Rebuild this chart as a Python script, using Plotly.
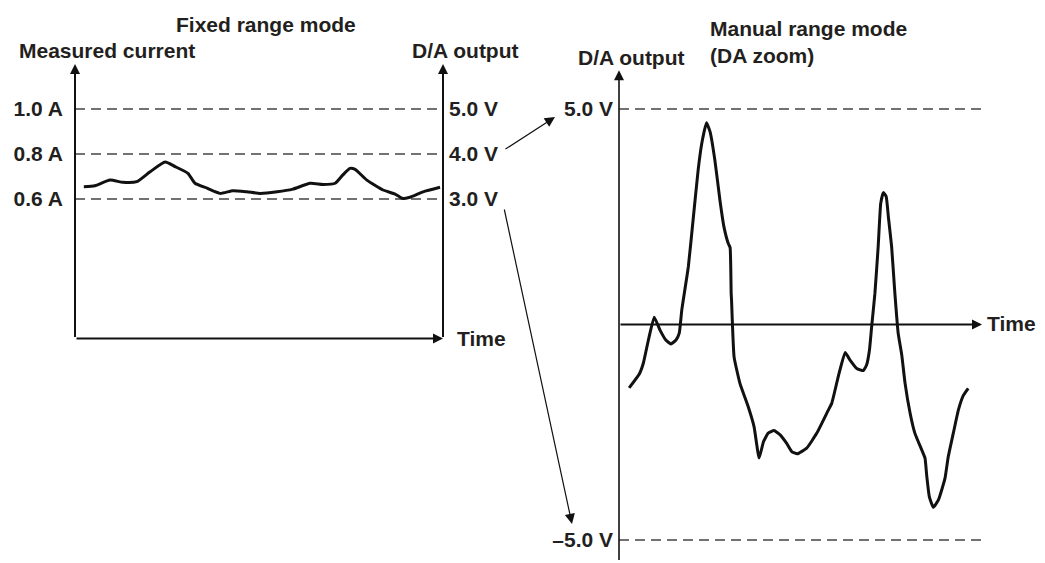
import plotly.graph_objects as go

# ---- data -------------------------------------------------------------
# Fixed range mode: measured current (A) over time (0-100 units)
fixed_time = [2.4, 5.4, 9.5, 13.0, 16.8, 20.4, 24.5, 27.2, 30.7, 32.6, 35.9, 39.4,
              42.9, 46.7, 50.3, 54.9, 59.2, 63.9, 67.4, 70.7, 72.8, 74.7, 76.1,
              79.3, 83.7, 87.0, 88.9, 91.0, 94.6, 99.2]
fixed_current = [0.655, 0.659, 0.684, 0.674, 0.677, 0.721, 0.764, 0.744, 0.714,
                 0.670, 0.648, 0.625, 0.637, 0.632, 0.625, 0.632, 0.644, 0.670,
                 0.665, 0.670, 0.707, 0.736, 0.732, 0.684, 0.640, 0.622, 0.603,
                 0.608, 0.632, 0.652]

# Manual range mode (DA zoom): D/A output (V) over time (0-100 units)
zoom_time = [2.8, 5.6, 6.7, 8.1, 9.7, 11.3, 12.9, 14.3, 15.7, 16.6, 17.3, 19.1,
             20.5, 21.8, 22.8, 24.1, 25.1, 26.4, 27.8, 28.9, 30.1, 30.6, 30.9,
             31.0, 31.7, 33.3, 35.6, 37.2, 38.6, 39.8, 41.1, 42.7, 44.4, 46.2,
             47.6, 49.1, 51.7, 54.5, 57.7, 58.6, 60.4, 62.3, 63.6, 65.5, 67.3,
             68.2, 69.0, 69.6, 70.5, 71.4, 72.1, 72.8, 73.6, 74.2, 75.1, 76.0,
             76.9, 77.9, 78.8, 80.2, 81.5, 83.4, 84.3, 84.8, 85.5, 86.6, 88.0,
             89.8, 90.7, 92.1, 93.5, 94.9, 96.2]
zoom_volts = [-1.47, -1.15, -0.90, -0.36, 0.17, -0.13, -0.36, -0.45, -0.36, -0.20,
              0.34, 1.34, 2.50, 3.58, 4.20, 4.68, 4.47, 3.82, 2.89, 2.27, 1.88,
              1.79, 0.72, 0.57, -0.75, -1.36, -1.91, -2.37, -3.10, -2.72, -2.52,
              -2.46, -2.56, -2.76, -2.95, -3.00, -2.87, -2.52, -1.98, -1.83, -1.21,
              -0.65, -0.82, -1.02, -1.07, -0.94, -0.59, -0.05, 0.72, 1.81, 2.81,
              3.06, 2.97, 2.50, 1.81, 0.72, -0.20, -0.71, -1.36, -2.06, -2.52,
              -2.91, -3.10, -3.53, -4.00, -4.24, -4.07, -3.57, -3.07, -2.52, -1.98,
              -1.64, -1.48]

current_ticks = [0.6, 0.8, 1.0]
current_labels = ["0.6 A", "0.8 A", "1.0 A"]
fixed_volt_ticks = [3.0, 4.0, 5.0]
fixed_volt_labels = ["3.0 V", "4.0 V", "5.0 V"]
zoom_volt_ticks = [-5.0, 5.0]
zoom_volt_labels = ["\u20135.0 V", "5.0 V"]

# ---- layout helpers ---------------------------------------------------
W, H = 1045, 563
INK = "#231f20"
LINE = "#111111"
FONT = "Liberation Sans, Arial, Helvetica, sans-serif"


def fx(px):
    return px / W


def fy(py):
    return 1 - py / H


bold = dict(family=FONT, size=21, color=INK, weight="bold")

fig = go.Figure()

fig.add_trace(go.Scatter(x=fixed_time, y=fixed_current, mode="lines",
                         line=dict(color=LINE, width=3, shape="spline", smoothing=0.5),
                         xaxis="x", yaxis="y", hoverinfo="skip", showlegend=False))
# the volt scale of the fixed range panel shares its x axis
fig.add_trace(go.Scatter(x=[None], y=[None], mode="lines", xaxis="x", yaxis="y3",
                         hoverinfo="skip", showlegend=False))
fig.add_trace(go.Scatter(x=zoom_time, y=zoom_volts, mode="lines",
                         line=dict(color=LINE, width=3, shape="spline", smoothing=0.4),
                         xaxis="x2", yaxis="y2", hoverinfo="skip", showlegend=False))

# current axis: 225 px per A, -0.02 A sits on the time axis
I_LO, I_HI = -0.02, 1.2
V_LO, V_HI = -5.5, 5.9
hidden = dict(showgrid=False, zeroline=False, showline=False, ticks="")

fig.update_layout(
    width=W, height=H, autosize=False,
    margin=dict(l=0, r=0, t=0, b=0),
    paper_bgcolor="white", plot_bgcolor="rgba(0,0,0,0)",
    xaxis=dict(domain=[fx(75), fx(443)], range=[0, 100], showticklabels=False, **hidden),
    yaxis=dict(domain=[fy(338.5), fy(64)], range=[I_LO, I_HI], tickvals=current_ticks,
               ticktext=current_labels, tickfont=bold, ticklabelstandoff=11, **hidden),
    yaxis3=dict(overlaying="y", anchor="x", side="right", range=[I_LO * 5, I_HI * 5],
                tickvals=fixed_volt_ticks, ticktext=fixed_volt_labels, tickfont=bold,
                ticklabelstandoff=5, **hidden),
    xaxis2=dict(domain=[fx(619), fx(982)], range=[0, 100], anchor="y2",
                showticklabels=False, **hidden),
    yaxis2=dict(domain=[fy(324.5 - V_LO * 43.1), fy(324.5 - V_HI * 43.1)],
                range=[V_LO, V_HI], anchor="x2", tickvals=zoom_volt_ticks,
                ticktext=zoom_volt_labels, tickfont=bold, ticklabelstandoff=5, **hidden),
)

# dashed reference levels
dash = dict(color="#444444", width=1.3, dash="10px,6px")
for v in current_ticks:
    fig.add_shape(type="line", xref="x", yref="y", x0=0, x1=100, y0=v, y1=v,
                  line=dash, layer="below")
for v in zoom_volt_ticks:
    fig.add_shape(type="line", xref="x2", yref="y2", x0=0, x1=100, y0=v, y1=v,
                  line=dash, layer="below")


def axis_arrow(xref, yref, tail, tip, width=2.0, size=1.0):
    fig.add_annotation(xref=xref, yref=yref, axref=xref, ayref=yref,
                       x=tip[0], y=tip[1], ax=tail[0], ay=tail[1], text="",
                       showarrow=True, arrowhead=2, arrowsize=size, arrowwidth=width,
                       arrowcolor=LINE, standoff=0, startstandoff=0)


# axes of the fixed range panel
axis_arrow("x", "y", (0, I_LO), (0, I_HI))
axis_arrow("x", "y", (100, I_LO), (100, I_HI))
axis_arrow("x", "y", (0, I_LO), (100, I_LO))
# axes of the DA zoom panel
axis_arrow("x2", "y2", (0, V_LO), (0, V_HI), width=1.6, size=1.25)
axis_arrow("x2", "y2", (0, 0), (100, 0))

# connectors from the fixed-range voltage labels to the zoomed range
for head, tail in [((555, 117), (504, 150)), ((572, 524), (504, 208))]:
    fig.add_annotation(xref="paper", yref="paper", x=fx(head[0]), y=fy(head[1]),
                       ax=tail[0] - head[0], ay=tail[1] - head[1], text="",
                       showarrow=True, arrowhead=2, arrowsize=1.7, arrowwidth=1.2,
                       arrowcolor=LINE, standoff=0)

# headings and axis titles
texts = [
    ("Fixed range mode", 266, 24, "center"),
    ("Measured current", 107, 50, "center"),
    ("D/A output", 465, 50, "center"),
    ("D/A output", 631, 58, "center"),
    ("Manual range mode", 708, 28, "left"),
    ("(DA zoom)", 708, 55, "left"),
    ("Time", 455, 338, "left"),
    ("Time", 985, 323, "left"),
]
for txt, x, y, anchor in texts:
    fig.add_annotation(xref="paper", yref="paper", x=fx(x), y=fy(y), text=txt,
                       showarrow=False, xanchor=anchor, yanchor="middle", font=bold)

fig.write_html("out.html")
